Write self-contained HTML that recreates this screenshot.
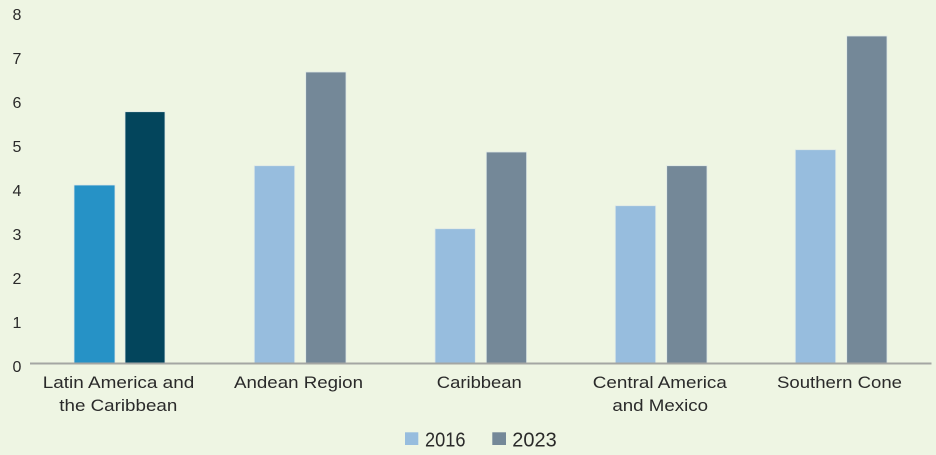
<!DOCTYPE html>
<html>
<head>
<meta charset="utf-8">
<style>
  html, body { margin: 0; padding: 0; background: #EEF5E3; }
  svg { display: block; }
  text { font-family: "Liberation Sans", "DejaVu Sans", sans-serif; fill: #2a2a2a; }
</style>
</head>
<body>
<svg width="936" height="455" viewBox="0 0 936 455" xmlns="http://www.w3.org/2000/svg">
  <rect x="0" y="0" width="936" height="455" fill="#EEF5E3"/>

  <!-- Y tick labels -->
  <g font-size="16" text-anchor="middle">
    <text x="17" y="20">8</text>
    <text x="17" y="64">7</text>
    <text x="17" y="108">6</text>
    <text x="17" y="152">5</text>
    <text x="17" y="196">4</text>
    <text x="17" y="240">3</text>
    <text x="17" y="284">2</text>
    <text x="17" y="328">1</text>
    <text x="17" y="372">0</text>
  </g>

  <!-- Bars -->
  <g stroke="#dfe9e6" stroke-width="0.8">
    <!-- Latin America and the Caribbean -->
    <rect x="74" y="185" width="41" height="178.5" fill="#2692C6"/>
    <rect x="125" y="111.7" width="40" height="251.8" fill="#03455C"/>
    <!-- Andean Region -->
    <rect x="254.3" y="165.7" width="40.4" height="197.8" fill="#97BDDE"/>
    <rect x="305.7" y="72" width="40.3" height="291.5" fill="#748898"/>
    <!-- Caribbean -->
    <rect x="435" y="228.7" width="40.3" height="134.8" fill="#97BDDE"/>
    <rect x="486.3" y="152" width="40.3" height="211.5" fill="#748898"/>
    <!-- Central America and Mexico -->
    <rect x="615.3" y="205.7" width="40.4" height="157.8" fill="#97BDDE"/>
    <rect x="666.7" y="165.7" width="40.3" height="197.8" fill="#748898"/>
    <!-- Southern Cone -->
    <rect x="795.3" y="149.7" width="40.4" height="213.8" fill="#97BDDE"/>
    <rect x="846.7" y="36" width="40.3" height="327.5" fill="#748898"/>
  </g>

  <!-- Axis line -->
  <line x1="30" y1="363.5" x2="931.5" y2="363.5" stroke="#A4A6A3" stroke-width="2"/>

  <!-- Category labels -->
  <g font-size="17" text-anchor="middle">
    <text x="118.5" y="388" textLength="151.5" lengthAdjust="spacingAndGlyphs">Latin America and</text>
    <text x="118.3" y="411" textLength="118" lengthAdjust="spacingAndGlyphs">the Caribbean</text>
    <text x="298.5" y="388" textLength="129" lengthAdjust="spacingAndGlyphs">Andean Region</text>
    <text x="479.3" y="388" textLength="85" lengthAdjust="spacingAndGlyphs">Caribbean</text>
    <text x="659.8" y="388" textLength="134" lengthAdjust="spacingAndGlyphs">Central America</text>
    <text x="660.2" y="411" textLength="95.7" lengthAdjust="spacingAndGlyphs">and Mexico</text>
    <text x="839.5" y="388" textLength="125" lengthAdjust="spacingAndGlyphs">Southern Cone</text>
  </g>

  <!-- Legend -->
  <rect x="405" y="432.3" width="13.3" height="12.7" fill="#97BDDE"/>
  <text x="425" y="446.7" font-size="20" textLength="40.5" lengthAdjust="spacingAndGlyphs">2016</text>
  <rect x="492.3" y="432.3" width="13.7" height="12.7" fill="#748898"/>
  <text x="512.3" y="446.7" font-size="20" textLength="44.4" lengthAdjust="spacingAndGlyphs">2023</text>
</svg>
</body>
</html>
